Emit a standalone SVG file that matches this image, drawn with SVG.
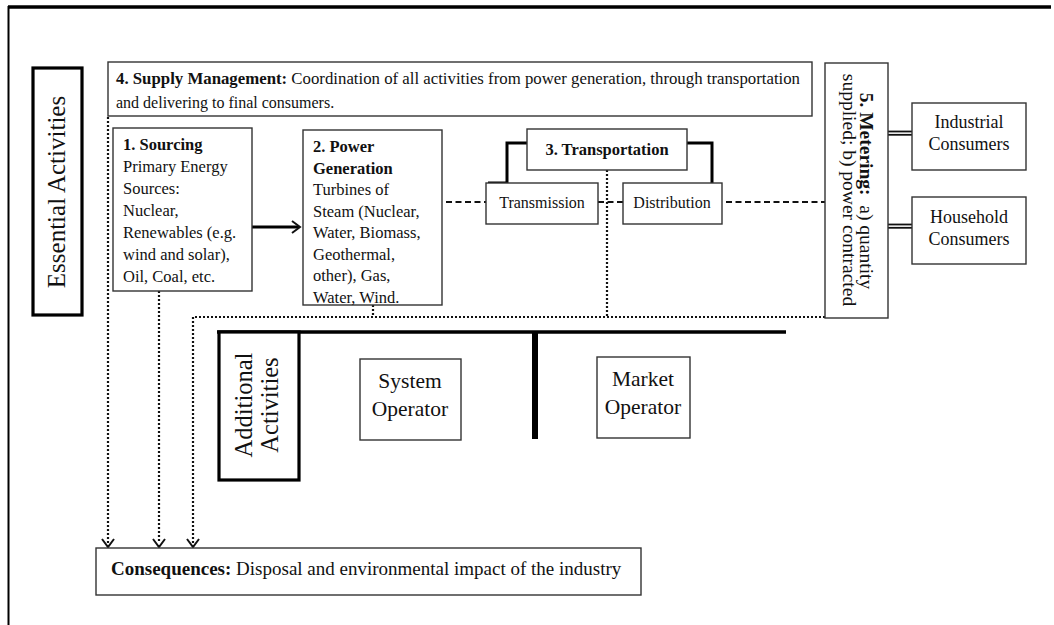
<svg xmlns="http://www.w3.org/2000/svg" width="1054" height="625" viewBox="0 0 1054 625">
<style>
text{font-family:"Liberation Serif","Times New Roman",serif;fill:#111}
.b{font-weight:bold}
.box{fill:#fff;stroke:#333;stroke-width:1.4}
.thick{fill:#fff;stroke:#000;stroke-width:3.2}
.dot{fill:none;stroke:#111;stroke-width:2.2;stroke-dasharray:2 2}
.dash{fill:none;stroke:#111;stroke-width:2.2;stroke-dasharray:6 3.5}
.solid{fill:none;stroke:#000;stroke-width:3}
.head{fill:none;stroke:#111;stroke-width:2}
</style>
<rect width="1054" height="625" fill="#fff"/>
<g id="frame">
<line x1="8" y1="7" x2="1051" y2="7" stroke="#000" stroke-width="3.5"/>
<line x1="8.5" y1="6" x2="8.5" y2="625" stroke="#000" stroke-width="2"/>
</g>
<g id="connectors">
<!-- dotted lines to consequences -->
<polyline class="dot" points="108,117 108,543"/>
<polyline class="dot" points="159,291 159,543"/>
<polyline class="dot" points="825,317 193,317 193,543"/>
<polyline class="dot" points="373,305 373,317"/>
<polyline class="dot" points="607,170 607,317"/>
<path class="head" d="M102,539 L108,547 L114,539 M153,539 L159,547 L165,539 M187,539 L193,547 L199,539"/>
<!-- sourcing to generation -->
<line class="solid" x1="251" y1="227" x2="299" y2="227" stroke-width="2.5"/>
<path class="head" stroke-width="2.5" d="M292,221 L300,227 L292,233"/>
<!-- dashed -->
<line class="dash" x1="446" y1="202" x2="486" y2="202"/>
<line class="dash" x1="598" y1="202" x2="623" y2="202"/>
<line class="dash" x1="726" y1="202" x2="825" y2="202"/>
<!-- transportation brackets -->
<polyline class="solid" points="488,183 507,183 507,143 527,143"/>
<polyline class="solid" points="687,143 712,143 712,183"/>
<!-- double lines to consumers -->
<g stroke="#111" stroke-width="1.8">
<line x1="888" y1="131.5" x2="912" y2="131.5"/><line x1="888" y1="134.8" x2="912" y2="134.8"/>
<line x1="888" y1="224.5" x2="912" y2="224.5"/><line x1="888" y1="227.8" x2="912" y2="227.8"/>
</g>
<!-- additional activities bars -->
<line x1="217" y1="332" x2="786" y2="332" stroke="#000" stroke-width="3.5"/>
<line x1="535" y1="331" x2="535" y2="439" stroke="#000" stroke-width="6"/>
</g>
<g id="essential">
<rect class="thick" x="33" y="68" width="49" height="247"/>
<text transform="translate(65,192) rotate(-90)" text-anchor="middle" font-size="25">Essential Activities</text>
</g>
<g id="supply">
<rect class="box" x="108" y="62" width="704" height="54"/>
<text x="116" y="84" font-size="16" textLength="684" lengthAdjust="spacingAndGlyphs"><tspan class="b">4. Supply Management:</tspan> Coordination of all activities from power generation, through transportation</text>
<text x="116" y="108" font-size="16">and delivering to final consumers.</text>
</g>
<g id="sourcing">
<rect class="box" x="113" y="128" width="139" height="163"/>
<text font-size="16.5"><tspan x="123" y="150" class="b">1. Sourcing</tspan><tspan x="123" y="172">Primary Energy</tspan><tspan x="123" y="194">Sources:</tspan><tspan x="123" y="216">Nuclear,</tspan><tspan x="123" y="238">Renewables (e.g.</tspan><tspan x="123" y="260">wind and solar),</tspan><tspan x="123" y="282">Oil, Coal, etc.</tspan></text>
</g>
<g id="generation">
<rect class="box" x="303" y="130" width="139" height="175"/>
<text font-size="16.5"><tspan x="313" y="152" class="b">2. Power</tspan><tspan x="313" y="173.5" class="b">Generation</tspan><tspan x="313" y="195">Turbines of</tspan><tspan x="313" y="216.5">Steam (Nuclear,</tspan><tspan x="313" y="238">Water, Biomass,</tspan><tspan x="313" y="259.5">Geothermal,</tspan><tspan x="313" y="281">other), Gas,</tspan><tspan x="313" y="302.5">Water, Wind.</tspan></text>
</g>
<g id="transportation">
<rect class="box" x="527" y="129" width="160" height="41"/>
<text x="607" y="155" text-anchor="middle" font-size="16.5" class="b">3. Transportation</text>
</g>
<g id="transmission">
<rect class="box" x="486" y="183" width="112" height="41"/>
<text x="542" y="208" text-anchor="middle" font-size="16">Transmission</text>
</g>
<g id="distribution">
<rect class="box" x="623" y="183" width="99" height="41"/>
<text x="672" y="208" text-anchor="middle" font-size="16">Distribution</text>
</g>
<g id="metering">
<rect class="box" x="825" y="63" width="63" height="255"/>
<text transform="translate(860,191) rotate(90)" text-anchor="middle" font-size="19.5" xml:space="preserve"><tspan class="b">5. Metering:</tspan>  a) quantity</text>
<text transform="translate(843,190) rotate(90)" text-anchor="middle" font-size="19.5">supplied; b) power contracted</text>
</g>
<g id="industrial">
<rect class="box" x="912" y="103" width="114" height="67"/>
<text text-anchor="middle" font-size="18"><tspan x="969" y="128">Industrial</tspan><tspan x="969" y="150">Consumers</tspan></text>
</g>
<g id="household">
<rect class="box" x="912" y="197" width="114" height="67"/>
<text text-anchor="middle" font-size="18"><tspan x="969" y="223">Household</tspan><tspan x="969" y="245">Consumers</tspan></text>
</g>
<g id="additional">
<rect class="thick" x="219" y="332" width="80" height="148"/>
<text transform="translate(252,405) rotate(-90)" text-anchor="middle" font-size="24.5">Additional</text>
<text transform="translate(278,405) rotate(-90)" text-anchor="middle" font-size="24.5">Activities</text>
</g>
<g id="system-operator">
<rect class="box" x="360" y="359" width="101" height="81"/>
<text text-anchor="middle" font-size="21.5"><tspan x="410" y="388">System</tspan><tspan x="410" y="416">Operator</tspan></text>
</g>
<g id="market-operator">
<rect class="box" x="597" y="357" width="93" height="81"/>
<text text-anchor="middle" font-size="21.5"><tspan x="643" y="386">Market</tspan><tspan x="643" y="414">Operator</tspan></text>
</g>
<g id="consequences">
<rect class="box" x="96" y="548" width="545" height="47"/>
<text x="111" y="575" font-size="19"><tspan class="b">Consequences:</tspan> Disposal and environmental impact of the industry</text>
</g>
</svg>
